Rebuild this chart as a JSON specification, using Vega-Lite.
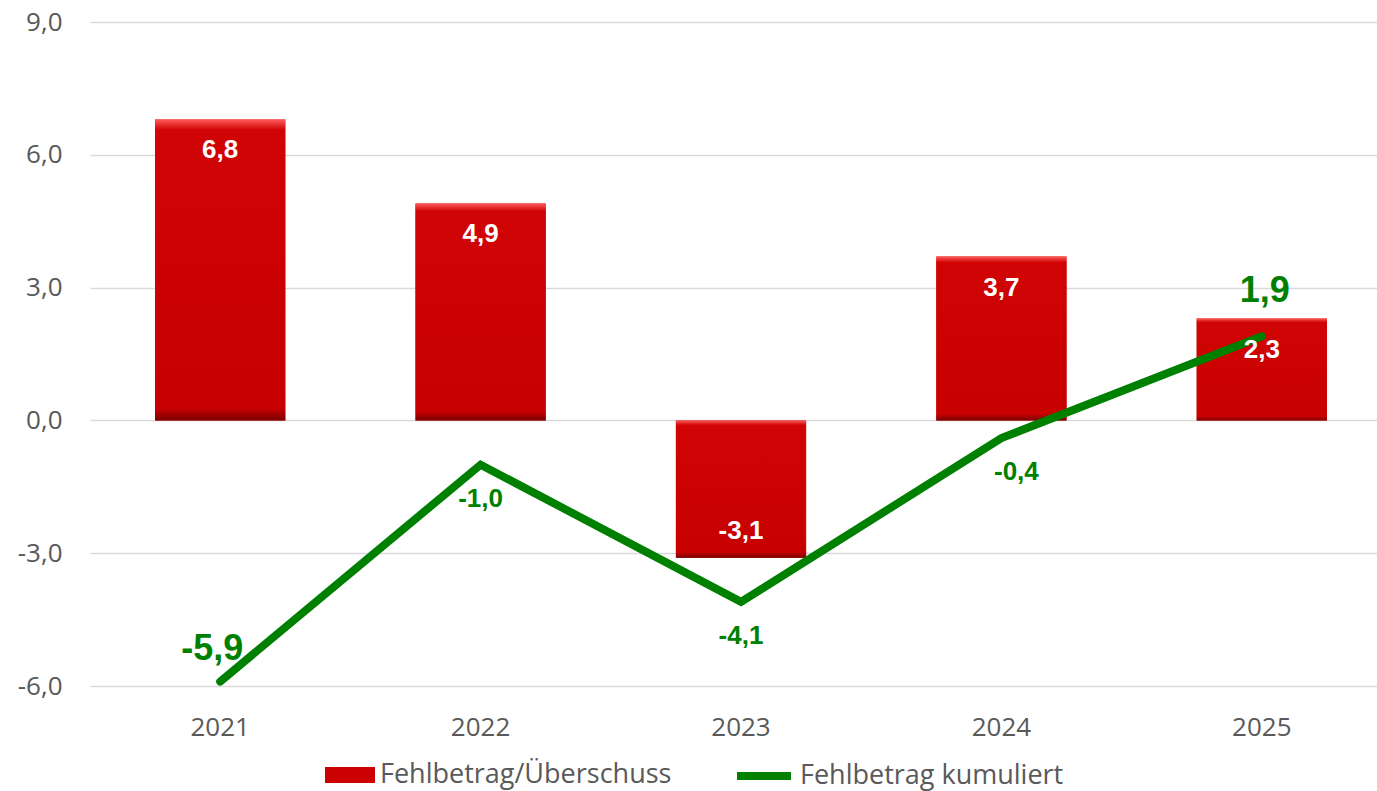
{
  "$schema": "https://vega.github.io/schema/vega-lite/v6.json",
  "width": 1280,
  "height": 664,
  "autosize": {"type": "none"},
  "padding": {"left": 88, "top": 22, "right": 9, "bottom": 105},
  "background": "white",
  "config": {
    "locale": {"number": {"decimal": ",", "thousands": ".", "grouping": [3], "currency": ["", " €"], "minus": "-"}},
    "view": {"stroke": null},
    "axis": {"labelFont": "Open Sans", "labelFontSize": 26, "labelColor": "#595959", "domain": false, "ticks": false},
    "legend": {"labelFont": "Open Sans", "labelFontSize": 27, "labelColor": "#595959", "padding": 0, "labelOffset": 5, "labelLimit": 500}
  },
  "data": {"values": [
    {"year": "2021", "value": 6.8, "cum": -5.9},
    {"year": "2022", "value": 4.9, "cum": -1.0},
    {"year": "2023", "value": -3.1, "cum": -4.1},
    {"year": "2024", "value": 3.7, "cum": -0.4},
    {"year": "2025", "value": 2.3, "cum": 1.9}
  ]},
  "encoding": {
    "x": {"field": "year", "type": "ordinal", "scale": {"range": [2, 1304], "paddingInner": 0.5, "paddingOuter": 0.25},
      "axis": {"labelAngle": 0, "labelPadding": 28, "grid": false, "title": null}}
  },
  "layer": [
    {
      "mark": {"type": "bar"},
      "encoding": {
        "y": {"field": "value", "type": "quantitative", "scale": {"domain": [-6, 9], "nice": false},
          "axis": {"values": [-6, -3, 0, 3, 6, 9], "format": ".1f", "grid": true, "gridColor": "#d9d9d9", "gridWidth": 1.5, "labelPadding": 26, "title": null}},
        "fill": {"datum": "Fehlbetrag/Überschuss", "scale": {"range": ["#cc0000"]},
          "legend": {"title": null, "orient": "none", "legendX": 237, "legendY": 728, "symbolType": "M-1,-0.32L1,-0.32L1,0.32L-1,0.32Z", "symbolSize": 2500, "symbolStrokeWidth": 0}}
      }
    },
    {
      "mark": {"type": "bar", "fill": {"gradient": "linear", "x1": 0, "y1": 0, "x2": 0, "y2": 1,
        "stops": [
          {"offset": 0, "color": "#ff5a5a"},
          {"offset": 0.035, "color": "#d00404"},
          {"offset": 0.96, "color": "#c80000"},
          {"offset": 1, "color": "#7a0000"}
        ]}},
      "encoding": {"y": {"field": "value", "type": "quantitative"}}
    },
    {
      "mark": {"type": "line", "strokeWidth": 8, "strokeCap": "round", "strokeJoin": "miter"},
      "encoding": {
        "y": {"field": "cum", "type": "quantitative"},
        "stroke": {"datum": "Fehlbetrag kumuliert", "scale": {"range": ["#008000"]},
          "legend": {"title": null, "orient": "none", "legendX": 645, "legendY": 723, "symbolType": "stroke", "symbolSize": 2916, "symbolStrokeWidth": 8}}
      }
    },
    {
      "transform": [{"filter": "datum.value > 0"}],
      "mark": {"type": "text", "font": "Liberation Sans", "fontWeight": "bold", "fontSize": 26, "color": "white", "baseline": "middle", "dy": 31},
      "encoding": {"y": {"field": "value", "type": "quantitative"}, "text": {"field": "value", "type": "quantitative", "format": ".1f"}}
    },
    {
      "transform": [{"filter": "datum.value < 0"}],
      "mark": {"type": "text", "font": "Liberation Sans", "fontWeight": "bold", "fontSize": 26, "color": "white", "baseline": "middle", "dy": -27},
      "encoding": {"y": {"field": "value", "type": "quantitative"}, "text": {"field": "value", "type": "quantitative", "format": ".1f"}}
    },
    {
      "transform": [{"filter": "datum.year == '2021'"}],
      "mark": {"type": "text", "font": "Liberation Sans", "fontWeight": "bold", "fontSize": 36, "color": "#008000", "baseline": "middle", "dy": -33, "dx": -8},
      "encoding": {"y": {"field": "cum", "type": "quantitative"}, "text": {"field": "cum", "type": "quantitative", "format": ".1f"}}
    },
    {
      "transform": [{"filter": "datum.year == '2025'"}],
      "mark": {"type": "text", "font": "Liberation Sans", "fontWeight": "bold", "fontSize": 36, "color": "#008000", "baseline": "middle", "dy": -45, "dx": 3},
      "encoding": {"y": {"field": "cum", "type": "quantitative"}, "text": {"field": "cum", "type": "quantitative", "format": ".1f"}}
    },
    {
      "transform": [{"filter": "datum.year == '2022' || datum.year == '2023'"}],
      "mark": {"type": "text", "font": "Liberation Sans", "fontWeight": "bold", "fontSize": 26, "color": "#008000", "baseline": "middle", "dy": 34},
      "encoding": {"y": {"field": "cum", "type": "quantitative"}, "text": {"field": "cum", "type": "quantitative", "format": ".1f"}}
    },
    {
      "transform": [{"filter": "datum.year == '2024'"}],
      "mark": {"type": "text", "font": "Liberation Sans", "fontWeight": "bold", "fontSize": 26, "color": "#008000", "baseline": "middle", "dy": 34, "dx": 15},
      "encoding": {"y": {"field": "cum", "type": "quantitative"}, "text": {"field": "cum", "type": "quantitative", "format": ".1f"}}
    }
  ]
}
